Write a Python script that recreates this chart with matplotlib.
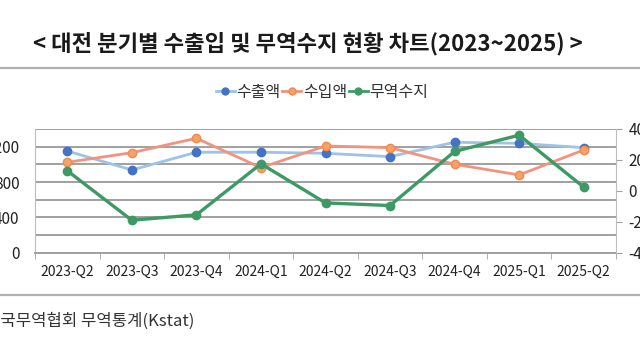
import matplotlib
matplotlib.use("Agg")
import matplotlib.pyplot as plt
import numpy as np
from matplotlib.lines import Line2D

plt.rcParams['font.family'] = ['Noto Sans CJK KR', 'DejaVu Sans']

quarters = ["2023-Q2", "2023-Q3", "2023-Q4", "2024-Q1", "2024-Q2",
            "2024-Q3", "2024-Q4", "2025-Q1", "2025-Q2"]
export_amt = [1151, 936, 1137, 1137, 1125, 1087, 1250, 1238, 1189]
import_amt = [1023, 1132, 1295, 962, 1208, 1189, 1001, 880, 1163]
balance = [130, -190, -155, 175, -78, -95, 255, 360, 24]

left_ticks = [0, 400, 800, 1200]
left_labels = ["0", "400", "800", "1,200"]
right_ticks = [-400, -200, 0, 200, 400]
right_labels = ["-400", "-200", "0", "200", "400"]

W, H = 640, 360


def px(x0, y0, x1, y1):
    # pixel box (top-left origin) -> figure fraction rect
    return [x0 / W, 1 - y1 / H, (x1 - x0) / W, (y1 - y0) / H]


fig = plt.figure(figsize=(6.4, 3.6), dpi=100)
fig.patch.set_facecolor("white")

fig.text(308 / W, 1 - 44 / H, "< 대전 분기별 수출입 및 무역수지 현황 차트(2023~2025) >",
         ha="center", va="center", fontsize=16, fontweight="bold", color="#1a1a1a")

fig.add_artist(Line2D([0, 1], [1 - 68.3 / H] * 2, color="#b0b0b0", lw=1.6))
fig.add_artist(Line2D([0, 1], [1 - 295 / H] * 2, color="#b0b0b0", lw=1.6))

fig.text(194 / W, 1 - 321 / H, "한국무역협회 무역통계(Kstat)", ha="right", va="center",
         fontsize=12, color="#333333")

ax = fig.add_axes(px(35, 129, 616, 252.7))
x = np.arange(len(quarters))

ax.set_xlim(-0.5, len(quarters) - 0.5)
ax.set_ylim(0, 1400)
ax.set_yticks(np.arange(0, 1401, 200))
ax.set_yticklabels([left_labels[left_ticks.index(v)] if v in left_ticks else ""
                    for v in range(0, 1401, 200)])
ax.yaxis.grid(True, color="#a0a0a0", lw=1.4)
ax.set_axisbelow(True)
ax.tick_params(axis="y", length=0, pad=11, labelsize=11, labelcolor="#222222")
ax.set_xticks(x)
ax.set_xticklabels(quarters)
ax.set_xticks(np.arange(-0.5, len(quarters), 1), minor=True)
ax.tick_params(axis="x", which="major", length=0, pad=9, labelsize=10, labelcolor="#222222")
ax.tick_params(axis="x", which="minor", length=4, color="#a0a0a0", direction="out")
for s in ["top", "right"]:
    ax.spines[s].set_visible(False)
ax.spines["left"].set_color("#bdbdbd")
ax.spines["bottom"].set_color("#a0a0a0")
ax.spines["bottom"].set_linewidth(1.4)

ax.plot(x, export_amt, color="#9dc3e6", lw=2, marker="o", ms=6,
        mfc="#4472c4", mec="#4472c4", zorder=3)
ax.plot(x, import_amt, color="#f1937f", lw=2, marker="o", ms=6,
        mfc="#f4a26a", mec="#f08a4b", zorder=3)

ax2 = ax.twinx()
ax2.set_ylim(-400, 400)
ax2.set_yticks(right_ticks)
ax2.set_yticklabels(right_labels)
ax2.tick_params(axis="y", length=4, color="#a0a0a0", pad=5, labelsize=11, labelcolor="#222222")
for s in ["top", "left", "bottom"]:
    ax2.spines[s].set_visible(False)
ax2.spines["right"].set_color("#bdbdbd")
ax2.plot(x, balance, color="#3d9a64", lw=2.4, marker="o", ms=6,
         mfc="#3d9a64", mec="#3d9a64", zorder=4)

handles = [
    Line2D([], [], color="#9dc3e6", lw=2, marker="o", ms=5, mfc="#4472c4", mec="#4472c4"),
    Line2D([], [], color="#f1937f", lw=2, marker="o", ms=5, mfc="#f4a26a", mec="#f08a4b"),
    Line2D([], [], color="#3d9a64", lw=2, marker="o", ms=5, mfc="#3d9a64", mec="#3d9a64"),
]
fig.legend(handles, ["수출액", "수입액", "무역수지"], loc="center",
           bbox_to_anchor=(322 / W, 1 - 92.5 / H), ncol=3, frameon=False,
           fontsize=11.5, handlelength=1.2, handletextpad=0.1, columnspacing=0.1,
           labelcolor="#333333")

fig.savefig("out.png", dpi=100, facecolor="white")
